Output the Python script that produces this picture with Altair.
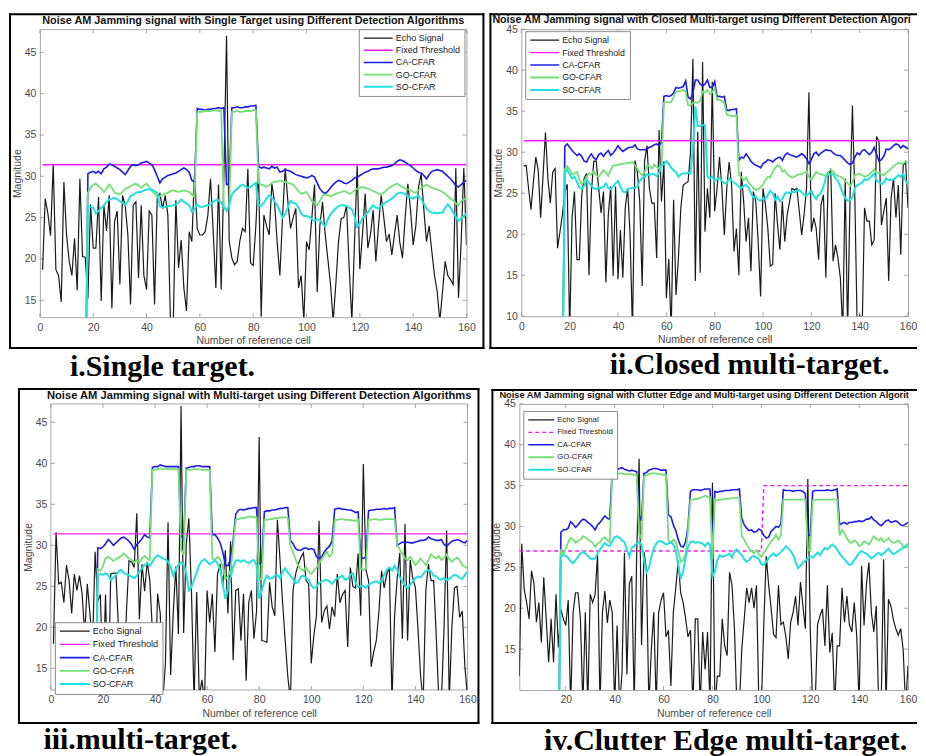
import altair as alt
import pandas as pd

SERIES = ["Echo Signal", "Fixed Threshold", "CA-CFAR", "GO-CFAR", "SO-CFAR"]
COLORS = ["#1a1a1a", "#f01ef0", "#1c1ce6", "#74e074", "#22e0e0"]
WIDTHS = [1.2, 2.0, 1.5, 0.9, 1.6]
DASHES = [[1, 0], [4, 3], [1, 0], [1, 0], [1, 0]]
CFAR_START = 17

XT = [0, 20, 40, 60, 80, 100, 120, 140, 160]
XT_IV = [20, 40, 60, 80, 100, 120, 140, 160]
YT_A = [15, 20, 25, 30, 35, 40, 45]
YT_B = [10, 15, 20, 25, 30, 35, 40, 45]

TITLES = [
    "Noise AM Jamming signal with Single Target using Different Detection Algorithms",
    "Noise AM Jamming signal with Closed Multi-target using Different Detection Algorithms",
    "Noise AM Jamming signal with Multi-target using Different Detection Algorithms",
    "Noise AM Jamming signal with Clutter Edge and Multi-target using Different Detection Algorithms",
]
CAPTIONS = ["i.Single target.", "ii.Closed multi-target.", "iii.multi-target.", "iv.Clutter Edge multi-target."]

# ---------------- panel i ----------------
ECHO_I = [
    18.7, 27.3, 25.5, 22.8, 31.5, 18.7, 18.0, 14.8, 29.3, 22.9,
    19.7, 18.0, 22.5, 16.2, 29.7, 20.3, 20.2, 15.2, 26.6, 21.3,
    21.3, 27.5, 14.9, 26.5, 23.4, 27.7, 14.0, 24.5, 25.8, 16.9,
    27.7, 26.5, 22.9, 14.5, 26.5, 26.9, 17.7, 26.5, 18.0, 16.3,
    25.8, 25.3, 14.5, 27.3, 27.9, 26.1, 27.7, 25.3, 12.0, 12.0,
    27.1, 18.9, 22.3, 16.5, 13.7, 23.3, 22.1, 30.4, 23.7, 22.9,
    22.9, 23.3, 25.3, 29.7, 23.3, 16.5, 29.0, 16.3, 30.1, 47.0,
    22.2, 20.1, 19.3, 19.7, 22.2, 23.7, 23.3, 30.9, 19.5, 19.2,
    24.0, 30.9, 13.0, 25.3, 24.0, 22.9, 29.1, 26.9, 22.0, 18.0,
    25.0, 31.0, 27.0, 23.7, 25.0, 26.1, 16.5, 18.0, 12.5, 22.1,
    21.1, 25.0, 29.0, 16.0, 24.0, 26.9, 23.0, 20.0, 16.9, 12.5,
    17.0, 22.1, 24.9, 25.0, 26.5, 19.0, 12.5, 22.0, 31.3, 18.8,
    23.0, 27.9, 21.3, 23.0, 25.9, 19.7, 24.0, 27.7, 25.0, 22.1,
    23.0, 20.5, 23.0, 25.3, 22.0, 20.1, 25.0, 29.1, 26.0, 21.7,
    24.0, 28.7, 30.3, 26.0, 22.1, 24.0, 20.9, 18.0, 16.1, 12.5,
    16.0, 19.7, 18.0, 17.5, 16.9, 31.0, 15.3, 22.0, 31.0, 21.7,
]
FIXED_I_CELLS = [1, 160]
FIXED_I = [31.4, 31.4]
CA_I = [0.0,
    30.3, 30.5, 30.6, 30.4, 30.6, 30.3, 30.9, 31.1, 31.5, 31.4,
    31.2, 31.0, 30.8, 30.5, 30.2, 30.7, 31.2, 31.4, 31.3, 31.4,
    31.6, 31.7, 31.8, 31.6, 31.4, 30.8, 30.0, 29.2, 29.7, 29.9,
    30.1, 30.2, 30.3, 30.4, 30.6, 30.8, 31.0, 30.8, 30.5, 29.5,
    29.3, 38.2, 38.1, 38.1, 38.0, 38.1, 38.1, 38.2, 38.2, 38.3,
    38.2, 38.3, 29.0, 29.1, 38.3, 38.3, 38.4, 38.3, 38.3, 38.4,
    38.4, 38.5, 38.5, 38.6, 31.2, 31.0, 31.1, 31.0, 30.9, 31.2,
    31.0, 31.1, 30.5, 30.6, 30.8, 30.7, 30.6, 30.4, 30.2, 30.1,
    30.0, 29.9, 29.8, 29.9, 30.1, 29.9, 29.2, 28.5, 28.1, 27.9,
    28.2, 28.6, 29.0, 29.3, 29.5, 29.4, 29.2, 29.1, 29.3, 29.5,
    29.8, 29.9, 30.1, 30.3, 30.5, 30.6, 30.8, 30.9, 30.9, 30.9,
    31.0, 31.1, 31.1, 31.2, 31.3, 31.5, 31.8, 32.0, 31.9, 31.7,
    31.5, 31.3, 31.0, 30.7, 30.5, 30.4, 30.1, 29.7, 30.2, 30.6,
    30.7, 30.8, 30.7, 30.6, 30.3, 30.0, 29.7, 29.3, 28.9, 28.7,
    29.0, 29.3, 29.5,
]
GO_I = [0.0,
    28.0, 28.6, 29.0, 29.1, 28.8, 28.5, 28.1, 28.5, 29.0, 28.6,
    28.0, 27.9, 27.8, 28.1, 28.5, 28.6, 28.8, 29.0, 29.1, 28.9,
    28.6, 28.9, 29.1, 28.7, 28.2, 27.9, 27.5, 27.6, 27.8, 27.9,
    28.0, 28.2, 28.3, 28.2, 28.1, 28.2, 28.3, 28.2, 28.1, 27.8,
    27.5, 37.8, 37.8, 37.8, 37.9, 37.9, 37.9, 38.0, 38.0, 37.9,
    38.0, 26.2, 26.0, 26.3, 37.8, 37.8, 37.9, 37.8, 37.8, 37.9,
    37.9, 37.9, 38.0, 38.0, 29.2, 29.0, 28.9, 28.7, 28.9, 29.2,
    29.4, 29.3, 29.5, 29.4, 29.3, 29.2, 29.1, 29.0, 28.6, 28.2,
    27.9, 28.0, 28.1, 27.6, 27.0, 26.8, 26.5, 27.0, 27.6, 27.8,
    27.7, 27.6, 27.7, 27.9, 28.0, 28.1, 28.2, 28.1, 27.9, 28.0,
    28.3, 28.5, 28.6, 28.7, 28.6, 28.5, 28.4, 28.2, 28.1, 27.9,
    27.8, 28.0, 28.3, 28.6, 28.8, 29.0, 29.1, 28.9, 28.7, 28.5,
    28.4, 28.3, 28.1, 28.0, 28.3, 28.6, 28.8, 29.0, 28.8, 28.6,
    28.5, 28.4, 28.3, 28.1, 27.9, 27.6, 27.3, 27.1, 26.7, 26.5,
    27.0, 27.2, 27.3,
]
SO_I = [0.0,
    26.4, 26.3, 26.2, 25.5, 25.8, 26.2, 26.5, 26.9, 27.2, 27.3,
    27.4, 27.2, 27.0, 26.8, 26.5, 27.0, 27.6, 27.8, 28.0, 28.1,
    28.1, 28.3, 28.4, 28.4, 28.4, 28.2, 28.0, 26.4, 26.2, 26.3,
    26.4, 26.4, 26.5, 26.6, 26.8, 27.2, 26.9, 26.7, 26.5, 25.7,
    26.0, 26.6, 26.3, 26.3, 26.4, 26.5, 26.6, 26.9, 27.1, 27.1,
    26.8, 26.3, 25.8, 26.5, 27.8, 28.2, 28.5, 28.8, 29.0, 28.8,
    28.6, 28.7, 29.0, 29.2, 26.5, 26.4, 26.8, 27.3, 27.7, 27.4,
    27.0, 26.5, 25.8, 25.0, 25.4, 26.2, 27.0, 26.8, 26.7, 26.2,
    25.5, 25.2, 25.2, 25.1, 24.8, 24.6, 24.8, 24.7, 24.3, 23.9,
    24.8, 25.4, 25.8, 26.1, 26.4, 26.5, 26.5, 26.4, 26.2, 26.0,
    25.2, 23.9, 24.3, 24.9, 25.3, 25.6, 26.1, 26.5, 26.2, 26.1,
    26.4, 26.7, 26.9, 27.1, 27.3, 27.6, 27.9, 28.0, 28.0, 27.8,
    27.6, 27.4, 27.3, 27.5, 27.7, 27.2, 26.7, 26.1, 25.8, 25.6,
    25.6, 25.5, 25.6, 25.6, 26.2, 26.6, 26.2, 25.6, 25.1, 24.6,
    24.9, 25.2, 25.5,
]

# ---------------- panel ii ----------------
ECHO_II = [
    28.3, 28.4, 25.6, 23.0, 26.4, 29.4, 27.8, 22.0, 27.2, 32.4,
    26.8, 23.8, 27.6, 28.0, 18.3, 20.3, 22.4, 25.0, 26.1, 8.0,
    22.0, 25.2, 16.9, 16.9, 24.8, 26.8, 27.4, 15.0, 25.2, 28.9,
    28.9, 25.6, 22.6, 25.2, 14.1, 22.4, 25.8, 14.9, 25.8, 14.5,
    20.5, 14.7, 23.2, 25.6, 20.0, 8.0, 29.0, 27.6, 24.0, 13.7,
    28.9, 30.8, 25.6, 23.8, 23.8, 17.1, 32.7, 24.0, 28.9, 12.2,
    17.0, 8.0, 24.2, 12.6, 17.1, 23.2, 26.0, 26.2, 26.4, 30.0,
    41.4, 14.3, 32.5, 15.3, 41.0, 20.3, 25.6, 22.0, 38.6, 22.8,
    25.6, 29.4, 25.6, 19.9, 25.6, 28.8, 26.0, 17.9, 20.7, 15.0,
    27.6, 24.0, 19.1, 22.0, 15.5, 25.2, 24.0, 19.1, 12.4, 25.6,
    23.6, 20.7, 16.1, 16.3, 25.0, 21.2, 18.1, 24.0, 19.1, 22.4,
    24.0, 25.6, 25.4, 25.6, 22.8, 19.9, 22.4, 25.6, 37.3, 20.3,
    22.0, 20.7, 16.9, 23.6, 24.8, 14.7, 27.2, 28.0, 16.7, 18.7,
    17.1, 14.7, 8.0, 26.8, 8.0, 24.4, 35.7, 24.4, 8.0, 10.2,
    8.0, 23.2, 21.6, 21.6, 18.7, 19.3, 31.9, 31.3, 21.1, 22.8,
    24.4, 14.3, 24.4, 26.8, 22.0, 26.0, 17.5, 28.4, 28.8, 23.2,
]
FIXED_II_CELLS = [1, 160]
FIXED_II = [31.4, 31.4]
CA_II = [0.0,
    30.7, 31.0, 30.6, 30.2, 29.9, 29.6, 29.8, 29.5, 28.9, 28.8,
    29.4, 29.8, 29.3, 29.1, 29.7, 29.9, 29.5, 29.9, 30.2, 29.6,
    29.9, 30.3, 30.8, 30.4, 30.1, 30.3, 30.5, 30.6, 30.6, 30.9,
    30.4, 30.3, 30.3, 30.3, 30.4, 30.6, 30.7, 30.9, 31.0, 30.8,
    31.2, 36.8, 36.9, 36.8, 36.9, 37.2, 37.9, 37.8, 37.9, 38.0,
    38.7, 36.7, 36.5, 37.2, 38.8, 38.8, 38.3, 38.1, 38.3, 38.8,
    37.9, 37.9, 38.6, 36.8, 36.8, 36.7, 36.8, 35.1, 35.1, 35.2,
    35.2, 35.3, 29.0, 29.4, 29.3, 29.8, 29.4, 28.9, 28.6, 28.4,
    28.3, 28.1, 28.6, 28.8, 29.1, 29.0, 28.8, 29.1, 29.3, 29.4,
    29.0, 29.6, 29.9, 29.7, 29.6, 29.5, 29.4, 29.6, 29.8, 29.6,
    29.2, 28.6, 29.1, 29.8, 30.0, 29.6, 29.9, 30.1, 30.3, 30.2,
    30.2, 29.9, 29.7, 29.6, 29.6, 29.3, 29.0, 28.7, 28.5, 28.7,
    29.4, 29.9, 29.7, 30.2, 30.3, 30.0, 29.7, 30.0, 30.6, 29.7,
    28.9, 29.1, 29.5, 30.4, 30.3, 30.5, 30.8, 31.0, 30.9, 30.5,
    30.8, 30.6, 30.4,
]
GO_II = [0.0,
    27.9, 28.3, 27.9, 27.3, 27.4, 27.6, 26.7, 26.1, 26.4, 27.0,
    27.4, 27.3, 27.7, 27.2, 27.0, 27.4, 27.8, 27.5, 27.1, 27.8,
    28.4, 28.4, 28.5, 28.5, 28.6, 28.6, 28.7, 28.7, 28.8, 28.4,
    28.0, 27.5, 27.2, 27.5, 28.4, 28.3, 28.0, 28.5, 28.2, 28.0,
    28.1, 36.0, 36.1, 36.1, 36.1, 36.7, 37.4, 37.4, 37.5, 37.6,
    37.4, 35.7, 35.7, 36.0, 36.1, 36.0, 36.3, 37.4, 37.3, 37.6,
    37.1, 37.3, 37.8, 36.4, 36.4, 36.2, 36.0, 34.6, 34.5, 34.4,
    34.4, 34.5, 27.2, 27.0, 26.6, 26.9, 26.3, 26.0, 25.6, 25.4,
    25.5, 25.7, 26.1, 26.6, 27.0, 26.9, 27.6, 28.1, 28.4, 28.3,
    27.6, 27.8, 27.3, 27.1, 26.9, 27.0, 27.2, 27.3, 27.3, 27.5,
    27.7, 27.0, 26.6, 27.1, 27.6, 27.4, 27.3, 27.2, 27.1, 27.6,
    27.9, 27.6, 27.3, 27.1, 27.0, 26.8, 26.5, 26.2, 25.9, 26.3,
    27.2, 27.3, 27.4, 27.2, 27.0, 27.1, 27.3, 27.6, 27.9, 27.4,
    27.5, 27.3, 27.2, 27.5, 27.7, 28.0, 28.3, 28.5, 28.7, 28.6,
    28.6, 28.9, 28.7,
]
SO_II = [0.0,
    27.5, 27.9, 27.3, 26.8, 27.0, 26.4, 25.7, 25.5, 25.9, 26.6,
    26.3, 25.9, 25.6, 25.5, 25.7, 25.6, 25.8, 26.2, 25.6, 25.5,
    25.8, 26.2, 26.5, 25.8, 25.2, 25.1, 25.5, 25.6, 25.6, 25.7,
    25.8, 26.5, 26.9, 27.0, 27.3, 27.2, 27.4, 27.3, 27.1, 27.5,
    28.4, 28.5, 28.9, 28.6, 28.1, 27.8, 27.6, 27.0, 27.3, 27.4,
    27.4, 27.5, 27.4, 30.5, 35.6, 33.2, 33.2, 33.3, 33.3, 27.0,
    26.8, 27.0, 26.5, 26.7, 26.9, 26.5, 26.2, 26.2, 26.8, 26.5,
    26.3, 26.1, 25.8, 25.6, 25.9, 26.0, 25.7, 25.0, 24.5, 24.6,
    24.2, 24.1, 24.4, 24.3, 24.8, 25.3, 25.0, 24.2, 24.6, 24.0,
    24.3, 24.9, 25.1, 25.0, 25.2, 25.1, 25.3, 25.4, 25.1, 24.8,
    24.7, 25.0, 25.3, 24.7, 24.3, 24.8, 25.0, 25.8, 26.9, 27.3,
    27.4, 27.3, 26.8, 26.5, 25.8, 25.0, 24.4, 24.1, 24.2, 24.5,
    25.6, 26.0, 26.1, 26.3, 26.7, 26.6, 26.8, 27.1, 27.4, 26.5,
    26.4, 26.1, 26.3, 26.8, 26.6, 26.6, 26.7, 26.9, 27.2, 27.0,
    27.4, 26.5, 26.0,
]

# ---------------- panel iii ----------------
ECHO_III = [
    18.0, 31.6, 25.3, 25.5, 23.0, 27.6, 25.7, 21.7, 26.5, 24.5,
    26.3, 24.1, 19.2, 25.3, 21.7, 17.6, 29.2, 23.1, 24.0, 13.6,
    24.0, 11.0, 26.5, 26.6, 26.6, 19.6, 13.6, 11.0, 21.7, 28.1,
    28.0, 27.3, 33.9, 21.0, 27.7, 24.4, 28.0, 25.7, 19.6, 13.6,
    24.1, 21.7, 11.0, 15.6, 32.8, 14.2, 21.7, 27.4, 19.2, 47.0,
    19.3, 30.2, 33.3, 24.4, 11.0, 24.3, 11.5, 13.6, 11.0, 24.5,
    20.6, 24.1, 17.0, 26.5, 27.7, 25.0, 29.4, 21.7, 30.5, 16.0,
    24.5, 24.7, 18.4, 24.1, 13.5, 23.0, 24.5, 18.6, 22.0, 43.2,
    18.4, 18.3, 18.2, 25.5, 22.5, 21.4, 33.1, 28.2, 23.0, 18.4,
    14.0, 11.0, 24.5, 26.5, 27.7, 28.5, 29.1, 25.7, 25.3, 15.6,
    19.0, 21.4, 33.0, 20.6, 22.0, 22.6, 19.8, 22.5, 21.3, 26.5,
    23.0, 24.0, 24.5, 17.6, 27.3, 25.0, 24.8, 29.0, 21.4, 39.9,
    27.0, 25.7, 15.2, 17.0, 18.4, 22.0, 26.9, 24.8, 26.5, 27.3,
    11.0, 21.4, 26.0, 29.1, 18.6, 32.6, 18.4, 28.2, 26.0, 24.8,
    19.8, 14.0, 11.0, 24.5, 27.7, 25.7, 25.7, 19.0, 11.0, 11.0,
    20.0, 31.8, 11.0, 20.0, 24.8, 25.0, 21.2, 22.0, 15.2, 11.5,
]
FIXED_III_CELLS = [1, 160]
FIXED_III = [31.4, 31.4]
CA_III = [0.0,
    29.7, 29.6, 29.8, 30.2, 30.7, 30.4, 30.0, 30.3, 30.6, 30.9,
    31.0, 30.8, 30.5, 30.1, 29.5, 30.1, 30.4, 30.8, 31.3, 31.0,
    30.9, 39.5, 39.6, 39.6, 39.8, 39.7, 39.6, 39.6, 39.6, 39.6,
    39.6, 39.6, 31.2, 30.6, 39.4, 39.5, 39.6, 39.6, 39.7, 39.7,
    39.6, 39.6, 39.6, 39.6, 31.3, 31.3, 30.9, 30.3, 29.2, 27.6,
    27.5, 28.3, 30.6, 33.8, 34.3, 34.4, 34.3, 34.4, 34.5, 34.5,
    34.6, 34.6, 27.7, 27.9, 34.1, 34.2, 34.2, 34.3, 34.3, 34.4,
    34.5, 34.5, 34.6, 34.6, 30.6, 30.2, 29.6, 29.4, 29.4, 29.6,
    29.7, 29.5, 29.6, 29.5, 28.6, 28.4, 28.6, 29.2, 29.6, 29.9,
    30.5, 34.4, 34.5, 34.5, 34.4, 34.4, 34.3, 34.3, 34.2, 34.0,
    34.1, 28.5, 28.4, 28.6, 34.2, 34.3, 34.3, 34.4, 34.4, 34.4,
    34.5, 34.4, 34.5, 34.5, 34.6, 30.0, 30.2, 30.4, 30.3, 30.4,
    30.3, 30.3, 30.4, 30.5, 30.6, 30.6, 30.7, 31.0, 30.8, 30.7,
    30.6, 30.6, 30.7, 30.1, 29.9, 30.2, 30.5, 30.6, 30.7, 30.6,
    30.4, 30.3, 30.6,
]
GO_III = [0.0,
    27.1, 26.9, 27.5, 28.4, 28.6, 28.4, 28.1, 28.3, 28.5, 28.7,
    29.0, 28.7, 28.4, 28.2, 27.9, 28.2, 27.9, 28.4, 28.7, 28.4,
    28.2, 39.2, 39.2, 39.3, 39.4, 39.3, 39.3, 39.3, 39.3, 39.3,
    39.3, 39.3, 29.5, 28.8, 39.2, 39.2, 39.2, 39.3, 39.3, 39.3,
    39.2, 39.2, 39.2, 39.2, 28.4, 28.2, 28.6, 28.3, 27.4, 25.9,
    26.2, 26.9, 29.8, 33.1, 33.2, 33.3, 33.3, 33.4, 33.5, 33.5,
    33.4, 33.4, 25.7, 26.0, 33.1, 33.1, 33.2, 33.2, 33.3, 33.3,
    33.4, 33.4, 33.4, 33.3, 29.9, 29.1, 28.3, 27.5, 27.1, 26.9,
    27.3, 26.8, 26.5, 26.9, 27.3, 27.8, 28.3, 28.8, 29.2, 28.6,
    29.0, 33.1, 33.1, 33.2, 33.2, 33.1, 33.1, 33.1, 33.0, 33.0,
    33.1, 27.1, 27.0, 27.2, 33.1, 33.1, 33.2, 33.2, 33.1, 33.1,
    33.2, 33.2, 33.2, 33.2, 33.2, 30.0, 29.5, 29.0, 28.4, 28.2,
    28.6, 28.1, 27.6, 27.9, 28.4, 28.0, 27.6, 28.2, 28.9, 28.6,
    28.4, 28.7, 28.2, 28.5, 28.9, 28.3, 28.0, 28.3, 28.5, 28.2,
    27.6, 27.4, 27.2,
]
SO_III = [0.0,
    26.3, 26.5, 26.4, 26.6, 26.4, 25.8, 26.0, 26.4, 26.8, 27.0,
    26.6, 26.5, 26.3, 26.2, 26.0, 26.3, 26.8, 27.2, 27.6, 27.8,
    27.5, 28.0, 28.5, 28.8, 28.6, 28.4, 28.3, 28.0, 27.4, 26.3,
    27.1, 27.6, 27.9, 27.7, 26.6, 24.5, 24.9, 25.8, 26.7, 27.6,
    28.1, 28.3, 28.0, 27.7, 27.9, 28.2, 27.8, 27.1, 25.3, 23.5,
    24.5, 26.0, 27.4, 28.1, 28.2, 28.0, 28.2, 28.0, 27.8, 28.1,
    28.2, 27.6, 23.5, 24.5, 25.6, 26.3, 25.9, 26.0, 26.3, 26.4,
    26.0, 26.8, 27.2, 26.7, 26.3, 25.9, 25.4, 25.5, 26.2, 26.3,
    26.0, 25.8, 25.1, 24.8, 24.9, 25.4, 25.6, 25.7, 25.8, 25.6,
    25.3, 25.7, 26.0, 26.1, 26.3, 25.8, 25.9, 26.4, 26.6, 25.4,
    24.9, 25.0, 25.1, 24.8, 25.2, 25.4, 25.5, 25.6, 25.4, 25.7,
    26.4, 27.0, 27.3, 26.9, 27.5, 27.0, 26.1, 25.6, 25.1, 24.8,
    25.2, 25.6, 26.0, 26.2, 26.1, 26.5, 26.9, 27.0, 26.8, 26.3,
    26.2, 25.9, 25.8, 26.0, 25.7, 25.9, 26.2, 26.4, 26.3, 26.0,
    25.9, 26.4, 26.8,
]

# ---------------- panel iv ----------------
ECHO_IV = [
    11.7, 27.9, 22.3, 20.7, 18.7, 24.6, 23.0, 18.3, 20.7, 15.8,
    23.8, 18.7, 13.4, 18.7, 13.4, 21.7, 15.2, 19.9, 18.7, 17.9,
    21.0, 8.0, 19.5, 21.9, 21.9, 18.7, 8.0, 19.5, 8.0, 21.7,
    20.7, 21.7, 26.6, 8.0, 19.5, 22.1, 18.2, 21.0, 19.5, 8.0,
    17.9, 8.0, 12.1, 26.8, 11.9, 23.0, 23.9, 8.0, 26.4, 38.3,
    15.5, 26.9, 24.7, 8.0, 15.0, 19.5, 8.0, 19.5, 21.0, 21.9,
    16.5, 17.3, 10.5, 19.5, 22.5, 25.8, 21.9, 20.7, 18.8, 16.5,
    17.3, 8.0, 18.7, 18.7, 8.0, 17.1, 12.5, 17.1, 8.0, 35.4,
    8.0, 11.7, 11.7, 18.7, 15.4, 14.2, 24.4, 22.8, 17.5, 8.0,
    8.0, 15.0, 18.7, 22.5, 20.7, 22.5, 20.0, 22.8, 8.0, 8.0,
    18.0, 26.4, 22.8, 20.0, 16.8, 16.4, 22.8, 18.0, 18.3, 16.6,
    13.8, 18.3, 19.5, 21.5, 17.9, 23.2, 20.3, 17.5, 35.8, 17.5,
    8.0, 8.0, 18.0, 19.1, 19.9, 15.4, 22.8, 14.6, 17.0, 8.0,
    15.4, 15.4, 22.5, 18.3, 21.5, 18.0, 17.1, 20.7, 16.7, 8.0,
    25.2, 17.9, 23.0, 25.6, 19.5, 17.1, 20.3, 8.0, 8.0, 26.0,
    8.0, 21.1, 20.3, 18.6, 17.5, 16.7, 17.5, 15.0, 8.0, 13.0,
]
FIXED_IV_CELLS = [1, 100, 101, 160]
FIXED_IV = [27.0, 27.0, 35.0, 35.0]
CA_IV = [0.0,
    29.3, 29.6, 29.6, 29.8, 30.6, 30.3, 29.9, 30.2, 30.6, 30.9,
    30.8, 30.5, 30.3, 30.0, 29.6, 30.2, 30.5, 30.9, 31.3, 31.0,
    30.9, 36.8, 36.9, 37.0, 37.1, 37.2, 37.0, 36.9, 36.8, 36.9,
    36.8, 36.7, 31.4, 30.7, 36.5, 36.6, 36.9, 37.0, 37.1, 37.1,
    37.0, 36.9, 36.9, 36.9, 31.4, 31.2, 30.2, 29.5, 28.4, 27.6,
    27.5, 28.1, 30.0, 34.3, 34.5, 34.5, 34.5, 34.4, 34.5, 34.6,
    34.6, 34.6, 28.0, 34.3, 34.2, 34.3, 34.3, 34.4, 34.4, 34.4,
    34.5, 34.5, 34.5, 34.6, 31.0, 30.2, 29.8, 29.5, 29.6, 29.3,
    29.4, 29.7, 29.5, 28.9, 28.6, 28.7, 29.4, 29.7, 30.0, 29.9,
    30.3, 34.5, 34.4, 34.4, 34.4, 34.3, 34.4, 34.4, 34.4, 34.3,
    34.0, 29.0, 28.9, 34.3, 34.4, 34.4, 34.4, 34.4, 34.4, 34.5,
    34.4, 34.4, 34.5, 34.6, 30.2, 30.4, 30.5, 30.3, 30.5, 30.5,
    30.6, 30.6, 30.7, 30.6, 30.7, 30.9, 30.9, 31.2, 30.8, 30.6,
    30.3, 30.1, 30.4, 30.7, 30.8, 30.5, 30.6, 30.7, 30.5, 30.2,
    30.1, 30.3, 30.5,
]
GO_IV = [0.0,
    27.0, 26.6, 27.3, 28.1, 28.6, 28.4, 28.0, 28.2, 28.4, 28.8,
    28.7, 28.4, 28.2, 28.0, 27.5, 27.9, 28.1, 28.5, 28.7, 28.3,
    28.1, 36.3, 36.3, 36.4, 36.5, 36.5, 36.4, 36.4, 36.4, 36.4,
    36.3, 36.4, 29.0, 28.5, 36.1, 36.3, 36.4, 36.5, 36.5, 36.5,
    36.4, 36.4, 36.3, 36.3, 28.3, 28.0, 28.4, 28.1, 27.0, 25.7,
    25.9, 26.6, 29.5, 33.3, 33.3, 33.4, 33.4, 33.5, 33.6, 33.8,
    33.6, 33.6, 26.0, 33.3, 33.2, 33.3, 33.3, 33.4, 33.4, 33.4,
    33.5, 33.5, 33.5, 33.5, 28.8, 28.4, 27.8, 27.3, 27.0, 26.7,
    27.1, 26.6, 26.3, 26.8, 27.2, 27.7, 28.2, 28.5, 29.0, 28.4,
    28.9, 33.3, 33.3, 33.3, 33.3, 33.3, 33.3, 33.3, 33.3, 33.3,
    33.3, 27.2, 27.0, 33.2, 33.3, 33.3, 33.3, 33.3, 33.3, 33.3,
    33.3, 33.3, 33.3, 33.3, 28.9, 29.6, 29.2, 28.6, 28.1, 28.0,
    28.3, 28.1, 27.6, 27.8, 28.2, 28.0, 27.8, 28.3, 28.8, 28.5,
    28.3, 28.6, 28.1, 28.3, 28.6, 28.2, 28.0, 28.1, 28.3, 28.0,
    27.6, 27.4, 27.5,
]
SO_IV = [0.0,
    26.3, 26.5, 26.4, 26.2, 25.7, 25.5, 25.9, 26.3, 26.7, 26.9,
    26.7, 26.4, 26.1, 26.0, 26.1, 26.7, 27.2, 27.6, 28.0, 27.7,
    27.6, 28.2, 28.7, 28.8, 28.6, 28.3, 28.1, 27.2, 26.3, 27.4,
    27.6, 27.9, 28.1, 27.8, 26.0, 24.4, 24.9, 26.3, 27.3, 27.9,
    28.2, 28.2, 28.0, 27.8, 27.9, 28.1, 27.8, 27.1, 25.3, 23.6,
    24.5, 26.2, 27.5, 28.1, 28.2, 28.0, 28.1, 28.0, 27.9, 27.6,
    28.0, 27.8, 23.9, 24.5, 25.9, 26.5, 26.3, 26.4, 26.5, 26.7,
    26.2, 27.0, 27.2, 26.8, 26.5, 26.0, 25.7, 25.9, 26.3, 26.4,
    26.2, 26.0, 25.4, 25.3, 25.7, 26.1, 26.5, 26.7, 26.4, 26.6,
    26.9, 27.2, 27.6, 27.3, 27.0, 26.5, 25.7, 24.9, 25.2, 25.6,
    25.8, 26.1, 26.4, 26.2, 26.5, 26.8, 26.5, 27.0, 27.4, 27.2,
    27.5, 27.8, 27.6, 27.2, 26.7, 26.3, 26.0, 25.6, 25.3, 25.4,
    25.9, 26.3, 26.8, 27.0, 26.8, 26.7, 26.4, 26.1, 26.3, 26.6,
    26.8, 26.5, 26.7, 27.0, 27.3, 26.9, 26.6, 26.8, 27.0, 27.2,
    27.4, 27.6, 27.9,
]

SANS = "Liberation Sans"
SERIF = "Liberation Serif"
GRAY_TXT = "#4a4a4a"
TICK = "#8f8f8f"
FRAME = "#a8a8a8"

# All x positions below are relative to the left edge of the plot area.
# cell = (x0, x1, y0, y1) fixes the panel's extent in the grid; border = black frame.
# ext = extra blank view width on the left (keeps panel iii 11px right of panel i).
PANELS = [
    dict(echo=ECHO_I, fc=FIXED_I_CELLS, fv=FIXED_I, ca=CA_I, go=GO_I, so=SO_I,
         xdom=[0, 160], ydom=[12.95, 47.8], w=428, h=289, xt=XT, yt=YT_A, ext=0,
         title=TITLES[0], tx=214, ty=-5, talign="center", tfs=10.9, tlim=0,
         cap=CAPTIONS[0], cx=123, cy=348, lx=320, ly=0, lfs=9.0, sym=29, rp=2.2,
         cell=(-31, 448, -16, 358), border=(-30, 445, -15, 320), right=True, dashed=False),
    dict(echo=ECHO_II, fc=FIXED_II_CELLS, fv=FIXED_II, ca=CA_II, go=GO_II, so=SO_II,
         xdom=[0, 160], ydom=[10, 45], w=388, h=288, xt=XT, yt=YT_B, ext=0,
         title=TITLES[1], tx=-29, ty=-6, talign="left", tfs=10.7, tlim=425,
         cap=CAPTIONS[1], cx=229, cy=346, lx=4, ly=2, lfs=8.8, sym=29, rp=2.5,
         cell=(-33, 397, -16, 358), border=(-31, 396, -15, 320), right=False, dashed=False),
    dict(echo=ECHO_III, fc=FIXED_III_CELLS, fv=FIXED_III, ca=CA_III, go=GO_III, so=SO_III,
         xdom=[0, 160], ydom=[12.36, 47.24], w=418, h=287, xt=XT, yt=YT_A, ext=11,
         title=TITLES[2], tx=209, ty=-5, talign="center", tfs=11.2, tlim=0,
         cap=CAPTIONS[2], cx=90, cy=346, lx=4, ly=219, lfs=9.2, sym=30, rp=2.25,
         cell=(-42, 437, -16, 347), border=(-32, 429, -15, 320), right=True, dashed=False),
    dict(echo=ECHO_IV, fc=FIXED_IV_CELLS, fv=FIXED_IV, ca=CA_IV, go=GO_IV, so=SO_IV,
         xdom=[1, 160], ydom=[10, 45], w=390, h=287, xt=XT_IV, yt=YT_A, ext=0,
         title=TITLES[3], tx=-20, ty=-6, talign="left", tfs=9.3, tlim=417,
         cap=CAPTIONS[3], cx=207, cy=347, lx=4, ly=7, lfs=7.8, sym=26, rp=2.5,
         cell=(-31, 399, -16, 347), border=(-27, 398, -14, 320), right=False, dashed=True),
]


def make_panel(p):
    rows = []
    for i, v in enumerate(p["echo"]):
        rows.append({"series": "Echo Signal", "cell": i + 1, "value": v})
    for c, v in zip(p["fc"], p["fv"]):
        rows.append({"series": "Fixed Threshold", "cell": c, "value": v})
    for name, arr in (("CA-CFAR", p["ca"]), ("GO-CFAR", p["go"]), ("SO-CFAR", p["so"])):
        for i, v in enumerate(arr):
            rows.append({"series": name, "cell": CFAR_START + i, "value": v})
    df = pd.DataFrame(rows)

    w, h, e = p["w"], p["h"], p["ext"]
    W = w + e
    d0, d1 = p["xdom"]
    xs = alt.Scale(domain=[d0 - e * (d1 - d0) / w, d1], nice=False, zero=False)
    ys = alt.Scale(domain=p["ydom"], nice=False, zero=False)
    xa = dict(values=p["xt"], title="Number of reference cell", labelFlush=False,
              labelPadding=5, titlePadding=3)
    ya = dict(values=p["yt"], title="Magnitude", labelPadding=4, titlePadding=2)
    if e:
        xa["titleX"] = e + w / 2
        ya["offset"] = -e
    X = alt.X("cell:Q", scale=xs, axis=alt.Axis(**xa))
    Y = alt.Y("value:Q", scale=ys, axis=alt.Axis(**ya))

    leg = alt.Legend(
        title=None, orient="none", legendX=p["lx"] + e, legendY=p["ly"], direction="vertical",
        fillColor="white", strokeColor="#8c8c8c", padding=4,
        labelFont=SANS, labelFontSize=p["lfs"], labelColor="#1a1a1a",
        symbolType="stroke", symbolSize=p["sym"] ** 2, symbolStrokeWidth=1.5,
        clipHeight=10, rowPadding=p["rp"], labelOffset=2,
    )
    enc = dict(
        x=X, y=Y,
        color=alt.Color("series:N", scale=alt.Scale(domain=SERIES, range=COLORS), legend=leg),
        strokeWidth=alt.StrokeWidth("series:N", scale=alt.Scale(domain=SERIES, range=WIDTHS), legend=None),
    )
    if p["dashed"]:
        enc["strokeDash"] = alt.StrokeDash("series:N", scale=alt.Scale(domain=SERIES, range=DASHES), legend=leg)
    lines = alt.Chart(df).mark_line(clip=True).encode(**enc)

    one = pd.DataFrame({"k": [0]})
    layers = []
    # invisible cell that fixes this panel's extent in the grid
    cx0, cx1, cy0, cy1 = p["cell"]
    layers.append(alt.Chart(one).mark_rect(fill="white", opacity=0, strokeWidth=0).encode(
        x=alt.value(cx0 + e), x2=alt.value(cx1 + e), y=alt.value(cy0), y2=alt.value(cy1)))
    # outer black frame
    x0, x1, y0, y1 = p["border"]
    b = alt.Chart(one).mark_rule(color="black", strokeWidth=2, strokeCap="square")
    layers.append(b.encode(x=alt.value(x0 + e), x2=alt.value(x1 + e), y=alt.value(y0)))
    layers.append(b.encode(x=alt.value(x0 + e), x2=alt.value(x1 + e), y=alt.value(y1)))
    layers.append(b.encode(x=alt.value(x0 + e), y=alt.value(y0), y2=alt.value(y1)))
    if p["right"]:
        layers.append(b.encode(x=alt.value(x1 + e), y=alt.value(y0), y2=alt.value(y1)))
    # axes box drawn by hand when the view is wider than the plot
    if e:
        layers.append(alt.Chart(one).mark_rect(fillOpacity=0, stroke=FRAME, strokeWidth=1).encode(
            x=alt.value(e), x2=alt.value(W), y=alt.value(0), y2=alt.value(h)))

    # inward ticks on all four sides
    xt = pd.DataFrame({"cell": p["xt"]})
    yt = pd.DataFrame({"value": p["yt"]})
    tx = alt.Chart(xt).mark_rule(color=TICK, strokeWidth=0.8)
    ty = alt.Chart(yt).mark_rule(color=TICK, strokeWidth=0.8)
    layers.append(tx.encode(x=X, y=alt.value(h - 4), y2=alt.value(h)))
    layers.append(tx.encode(x=X, y=alt.value(0), y2=alt.value(4)))
    layers.append(ty.encode(y=Y, x=alt.value(e), x2=alt.value(e + 4)))
    layers.append(ty.encode(y=Y, x=alt.value(W - 4), x2=alt.value(W)))

    layers.append(lines)

    # MATLAB title
    tkw = dict(align=p["talign"], baseline="alphabetic", font=SANS, fontSize=p["tfs"],
               fontWeight="bold", color="#111111")
    if p["tlim"]:
        tkw.update(limit=p["tlim"], ellipsis=" ")
    layers.append(alt.Chart(pd.DataFrame({"t": [p["title"]]})).mark_text(**tkw).encode(
        text="t:N", x=alt.value(p["tx"] + e), y=alt.value(p["ty"])))
    # caption
    layers.append(alt.Chart(pd.DataFrame({"t": [p["cap"]]})).mark_text(
        align="center", baseline="alphabetic", font=SERIF, fontSize=30, fontWeight="bold",
        color="#000000").encode(text="t:N", x=alt.value(p["cx"] + e), y=alt.value(p["cy"])))

    ch = alt.layer(*layers).properties(width=W, height=h)
    if e:
        ch = ch.properties(view=alt.ViewBackground(stroke="transparent"))
    return ch


p1, p2, p3, p4 = [make_panel(p) for p in PANELS]

IND = dict(color="independent", strokeWidth="independent", strokeDash="independent")

row1 = alt.hconcat(p1, p2, spacing=0).resolve_scale(**IND).resolve_legend(color="independent")
row2 = alt.hconcat(p3, p4, spacing=0).resolve_scale(**IND).resolve_legend(
    color="independent", strokeDash="independent")

chart = alt.vconcat(row1, row2, spacing=0).resolve_scale(**IND).resolve_legend(
    color="independent", strokeDash="independent"
).properties(
    padding={"left": 0, "top": 3, "right": 0, "bottom": 0}
).configure_view(
    stroke=FRAME, strokeWidth=1
).configure_axis(
    labelFont=SANS, titleFont=SANS, labelFontSize=10.5, titleFontSize=10.5,
    labelColor=GRAY_TXT, titleColor=GRAY_TXT, titleFontWeight="normal",
    ticks=False, tickSize=0, domain=False, grid=False
)

chart.save("out.html", embed_options={"renderer": "svg", "actions": False})
